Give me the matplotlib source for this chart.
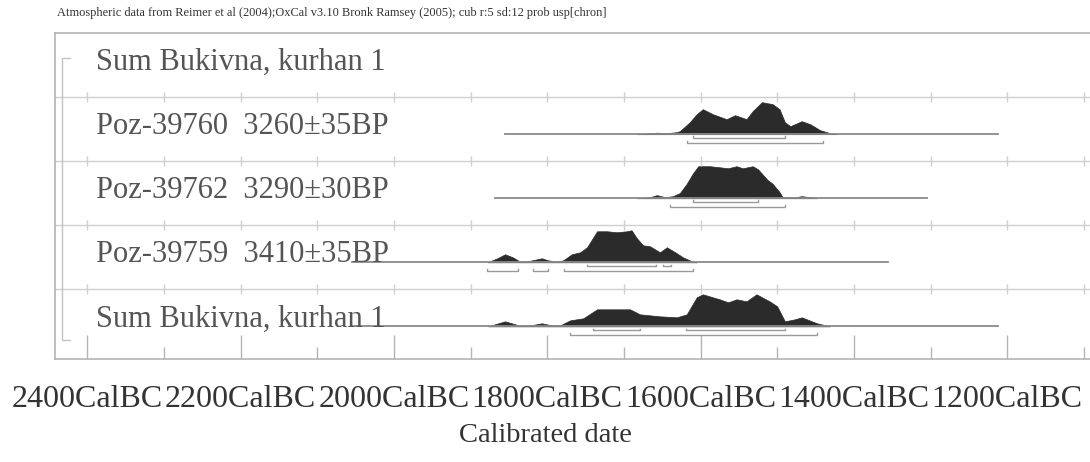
import numpy as np
import matplotlib.pyplot as plt

plt.rcParams['font.family'] = ['Liberation Serif', 'DejaVu Serif']

# row labels, top to bottom
labels = ["Sum Bukivna, kurhan 1",
          "Poz-39760  3260\u00b135BP",
          "Poz-39762  3290\u00b130BP",
          "Poz-39759  3410\u00b135BP",
          "Sum Bukivna, kurhan 1"]

# calibrated distributions (cal BC, relative probability)
yr_39760 = [1683, 1657, 1644, 1631, 1627, 1614, 1605, 1597, 1584, 1566, 1555, 1540,
            1532, 1520, 1506, 1497, 1490, 1483, 1468, 1457, 1444, 1431, 1422]
p_39760 = [0, 1.5, 1, 2, 3, 12, 20, 25, 20, 15, 19, 15,
           23, 32, 30, 25, 12, 8, 13, 10, 4, 1, 0]

yr_39762 = [1683, 1666, 1657, 1646, 1636, 1627, 1618, 1610, 1603, 1588, 1575, 1564,
            1553, 1545, 1532, 1525, 1513, 1506, 1497, 1493, 1480, 1468, 1457, 1448]
p_39762 = [0, 1, 3, 1, 2, 5, 14, 24, 31, 31, 30, 29,
           31, 29, 31, 28, 18, 14, 6, 1, 0.5, 2, 1, 0]

yr_39759 = [1878, 1865, 1855, 1845, 1835, 1826, 1813, 1807, 1799, 1787, 1779, 1768,
            1757, 1748, 1735, 1722, 1709, 1696, 1690, 1683, 1675, 1666, 1653, 1644,
            1633, 1623, 1610, 1605]
p_39759 = [0, 4, 8, 5, 0.5, 1, 3, 4, 2, 0.5, 2, 8,
           10, 15, 31, 31, 30, 31, 32, 24, 17, 16, 10, 15,
           10, 5, 0.5, 0]

yr_sum = [1877, 1855, 1835, 1822, 1807, 1794, 1783, 1770, 1753, 1735, 1714, 1692,
          1679, 1666, 1653, 1631, 1618, 1605, 1597, 1575, 1564, 1553, 1540, 1527,
          1510, 1500, 1490, 1477, 1468, 1448, 1431]
p_sum = [0, 5, 0.5, 1, 3, 1, 1, 6, 8, 17, 17, 17,
         12, 11, 10, 9, 12, 29, 32, 27, 24, 27, 25, 32,
         25, 20, 5, 7, 9, 3, 0]

dists = [None, (yr_39760, p_39760), (yr_39762, p_39762), (yr_39759, p_39759), (yr_sum, p_sum)]

# extent of the plotted range for each row
ranges = [None, (1855, 1212), (1868, 1304), (2055, 1356), (2055, 1212)]

# 68.2% and 95.4% ranges
r68 = [None, [(1610, 1490)], [(1610, 1525)], [(1748, 1658), (1649, 1639)],
       [(1740, 1679), (1619, 1490)]]
r95 = [None, [(1618, 1440)], [(1640, 1490)], [(1878, 1838), (1819, 1799), (1778, 1610)],
       [(1770, 1448)]]

major = list(range(2400, 1100, -200))
minor = list(range(2400, 1000, -100))

fig = plt.figure(figsize=(10.9, 4.62), dpi=100)
ax = fig.add_axes([55/1090, 103/462, 1035/1090, 326/462])
ax.set_xlim(2442, 1092)
ax.set_ylim(5.09, 0)

grey = '#b4b4b4'
for k in range(1, 5):
    ax.axhline(k, color='#cfcfcf', lw=1.0)
    ax.plot(minor, [k]*len(minor), '|', ms=7, mew=1.0, color='#cfcfcf')

for k, lab in enumerate(labels):
    base = k + 0.58
    ax.text(2388, base, lab, fontsize=22, color='#555555', va='baseline', ha='left')
    if dists[k] is None:
        continue
    yrs, p = dists[k]
    p = np.array(p) / max(p) * 0.5
    ax.plot(ranges[k], [base, base], color='#8a8a8a', lw=1.3)
    ax.fill_between(yrs, base, base - p, color='#2b2b2b', lw=0.5, edgecolor='#2b2b2b')
    for s, e in r68[k]:
        y = base + 0.065
        ax.plot([s, s, e, e], [y - 0.03, y, y, y - 0.03], color='#9a9a9a', lw=1.0)
    for s, e in r95[k]:
        y = base + 0.135
        ax.plot([s, s, e, e], [y - 0.03, y, y, y - 0.03], color='#9a9a9a', lw=1.0)

# group bracket on the left
ax.plot([2422, 2433, 2433, 2422], [0.39, 0.39, 4.8, 4.8], color='#c4c4c4', lw=1.0)

ax.set_xticks(major)
ax.set_xticklabels(["%dCalBC" % v for v in major], fontsize=23, color='#333333')
ax.set_xticks(minor, minor=True)
ax.set_yticks([])
ax.tick_params(axis='x', which='major', direction='in', length=17, width=1, color=grey, pad=19)
ax.tick_params(axis='x', which='minor', direction='in', length=9, width=1, color=grey)

for side in ['top', 'bottom', 'left']:
    ax.spines[side].set_color(grey)
    ax.spines[side].set_linewidth(1.2)
ax.spines['right'].set_visible(False)

fig.text(545/1090, 1 - 435/462, "Calibrated date", fontsize=20.5, color='#333333',
         ha='center', va='center')
fig.text(57/1090, 1 - 13/462,
         "Atmospheric data from Reimer et al (2004);OxCal v3.10 Bronk Ramsey (2005); cub r:5 sd:12 prob usp[chron]",
         fontsize=8.9, color='#333333', ha='left', va='center')

fig.savefig('out.png', dpi=100)
